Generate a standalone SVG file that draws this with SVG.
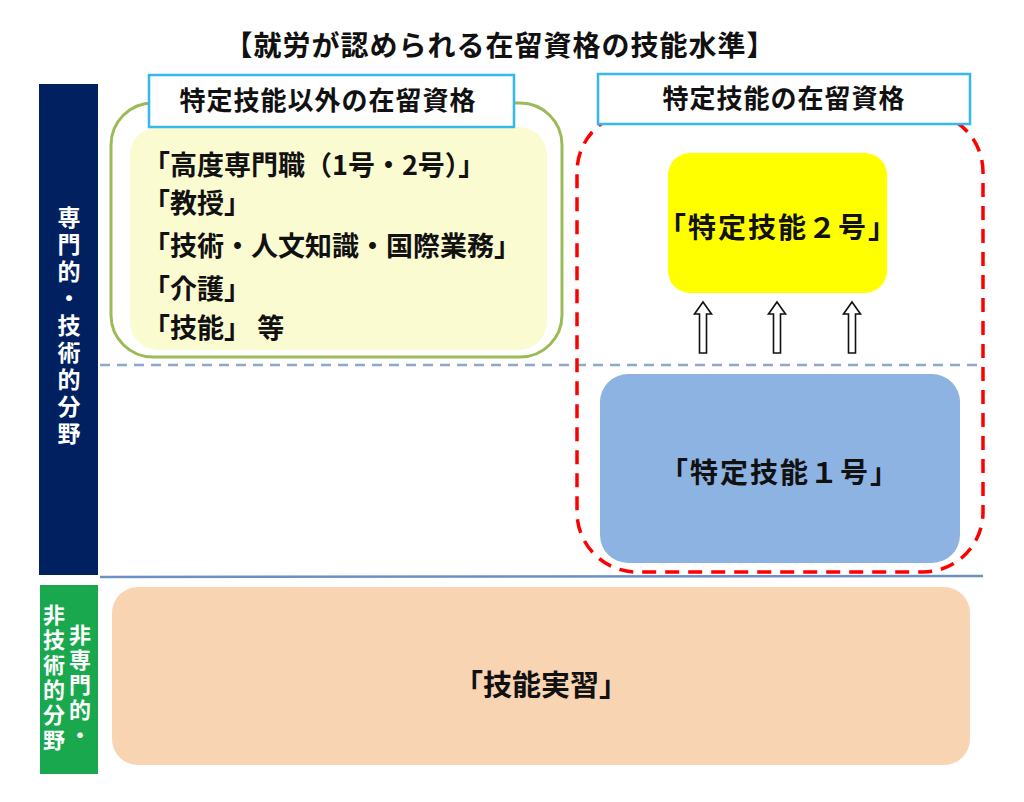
<svg xmlns="http://www.w3.org/2000/svg" width="1024" height="802" viewBox="0 0 1024 802">
<style>
text{font-family:"Noto Sans CJK JP","Noto Sans CJK SC",sans-serif;font-weight:bold;fill:#111}
.title{font-size:28px;letter-spacing:1px}
.lbl{font-size:26px;letter-spacing:1px}
.list{font-size:27px}
.big{font-size:28px;letter-spacing:2px}
.vt{writing-mode:vertical-rl;fill:#fff}
.lblbox{fill:#fff;stroke:#33b9ee;stroke-width:2.5}
</style>
<defs>
<path id="uparrow" d="M0,0 L8.5,12 L3.5,12 L3.5,51 L-3.5,51 L-3.5,12 L-8.5,12 Z" fill="#fff" stroke="#111" stroke-width="1.6" stroke-linejoin="miter"/>
</defs>
<rect width="1024" height="802" fill="#fff"/>

<g id="title">
<text class="title" x="500" y="56" text-anchor="middle">【就労が認められる在留資格の技能水準】</text>
</g>

<g id="band-professional">
<rect x="39" y="84" width="59" height="491" fill="#002060"/>
<text class="vt" x="69" y="206" font-size="23" letter-spacing="4">専門的・技術的分野</text>
</g>

<g id="band-nonprofessional">
<rect x="40" y="585" width="58" height="189" fill="#19a84e"/>
<text class="vt" x="80" y="624" font-size="22" letter-spacing="3">非専門的・</text>
<text class="vt" x="54" y="604" font-size="22" letter-spacing="3">非技術的分野</text>
</g>

<g id="connectors">
<line x1="100" y1="365" x2="982" y2="365" stroke="#8ea9c8" stroke-width="2.5" stroke-dasharray="10 7"/>
<line x1="100" y1="577" x2="983" y2="576" stroke="#6d8fc6" stroke-width="2.5"/>
<use href="#uparrow" x="703" y="302"/>
<use href="#uparrow" x="777" y="302"/>
<use href="#uparrow" x="852" y="302"/>
</g>

<g id="other-statuses">
<rect x="111" y="103" width="451" height="254" rx="42" fill="#fff" stroke="#9bbb59" stroke-width="3"/>
<rect x="130" y="127" width="417" height="223" rx="28" fill="#fbfbd2"/>
<text class="list" x="143" y="175">「高度専門職（1号・2号）」</text>
<text class="list" x="143" y="213">「教授」</text>
<text class="list" x="143" y="256">「技術・人文知識・国際業務」</text>
<text class="list" x="143" y="299">「介護」</text>
<text class="list" x="143" y="338">「技能」 等</text>
</g>

<g id="ssw-frame">
<rect x="577" y="112" width="406" height="460" rx="60" fill="none" stroke="#ff0000" stroke-width="3.5" stroke-dasharray="14 9"/>
</g>

<g id="label-other">
<rect class="lblbox" x="149" y="75" width="365" height="52"/>
<text class="lbl" x="328" y="110" text-anchor="middle">特定技能以外の在留資格</text>
</g>

<g id="label-ssw">
<rect class="lblbox" x="598" y="74" width="372" height="50"/>
<text class="lbl" x="784" y="108" text-anchor="middle">特定技能の在留資格</text>
</g>

<g id="ssw2">
<rect x="668" y="153" width="219" height="140" rx="22" fill="#ffff00"/>
<text class="big" x="778" y="238" text-anchor="middle">「特定技能２号」</text>
</g>

<g id="ssw1">
<rect x="600" y="374" width="360" height="189" rx="28" fill="#8db3e2"/>
<text class="big" x="780" y="483" text-anchor="middle">「特定技能１号」</text>
</g>

<g id="tit">
<rect x="112" y="587" width="858" height="178" rx="26" fill="#f9d4b3"/>
<text x="541" y="696" text-anchor="middle" font-size="29">「技能実習」</text>
</g>
</svg>
